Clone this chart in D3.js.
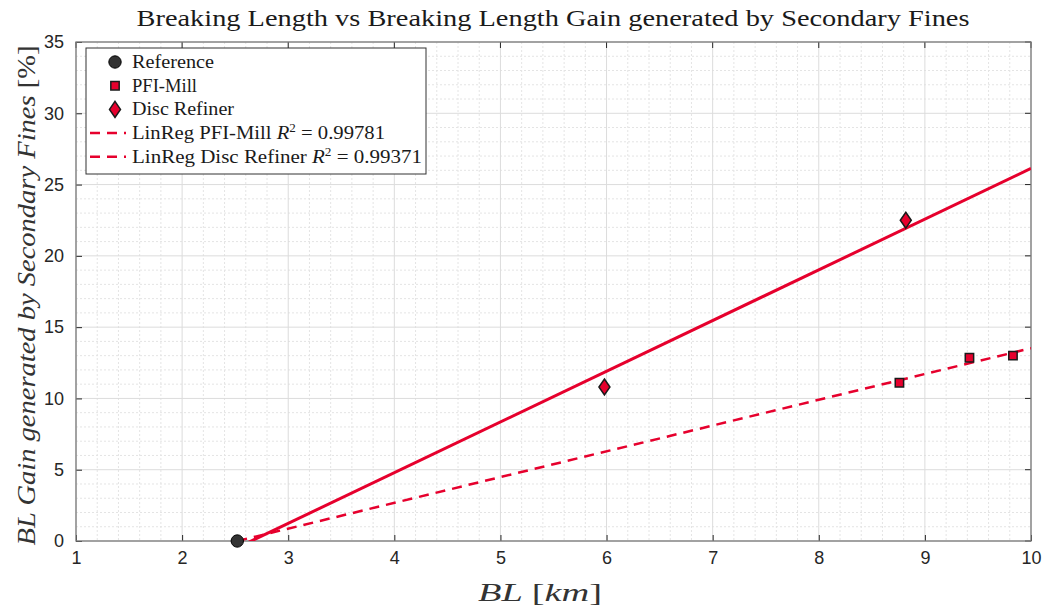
<!DOCTYPE html>
<html>
<head>
<meta charset="utf-8">
<script src="https://cdn.jsdelivr.net/npm/d3@7"></script>
<style>
  html, body { margin: 0; padding: 0; background: #fff; }
  svg { display: block; }
</style>
</head>
<body>
<svg id="chart" width="1050" height="610"></svg>
<script>
// Reference sample
const referenceBL = [2.52];
const referenceGain = [0];

// PFI-Mill samples
const pfiBL = [8.76, 9.42, 9.83];
const pfiGain = [11.1, 12.85, 13.0];

// Disc refiner samples
const discBL = [5.98, 8.82];
const discGain = [10.8, 22.5];

// Linear regression end points (BL, gain)
const pfiFitBL = [2.52, 10];
const pfiFitGain = [0.0, 13.52];
const discFitBL = [2.52, 10];
const discFitGain = [-0.47, 26.13];

const xTicks = [1, 2, 3, 4, 5, 6, 7, 8, 9, 10];
const yTicks = [0, 5, 10, 15, 20, 25, 30, 35];

const legendLabels = ["Reference", "PFI-Mill", "Disc Refiner", "LinReg PFI-Mill", "LinReg Disc Refiner"];
const legendR2 = [null, null, null, "0.99781", "0.99371"];

const RED = "#e6002d";
const serif = "'Liberation Serif', 'DejaVu Serif', serif";
const sans = "'Liberation Sans', Arial, sans-serif";

const svg = d3.select("#chart");
const m = { left: 76, right: 1031, top: 42, bottom: 541 };

const x = d3.scaleLinear().domain([1, 10]).range([m.left, m.right]);
const y = d3.scaleLinear().domain([0, 35]).range([m.bottom, m.top]);

svg.append("defs").append("clipPath").attr("id", "plotclip")
  .append("rect").attr("x", m.left).attr("y", m.top)
  .attr("width", m.right - m.left).attr("height", m.bottom - m.top);

// plot background
svg.append("rect").attr("x", m.left).attr("y", m.top)
  .attr("width", m.right - m.left).attr("height", m.bottom - m.top).attr("fill", "#fff");

// minor grid
const xMinor = d3.range(1, 10.0001, 0.2).filter(v => Math.abs(v - Math.round(v)) > 1e-6);
const yMinor = d3.range(0, 35.0001, 1).filter(v => v % 5 !== 0);
const grid = svg.append("g");
grid.selectAll(".xm").data(xMinor).join("line")
  .attr("x1", d => x(d)).attr("x2", d => x(d)).attr("y1", m.top).attr("y2", m.bottom)
  .attr("stroke", "#e4e4e4").attr("stroke-width", 1).attr("stroke-dasharray", "2,2");
grid.selectAll(".ym").data(yMinor).join("line")
  .attr("y1", d => y(d)).attr("y2", d => y(d)).attr("x1", m.left).attr("x2", m.right)
  .attr("stroke", "#e4e4e4").attr("stroke-width", 1).attr("stroke-dasharray", "2,2");
// major grid
grid.selectAll(".xM").data(xTicks).join("line")
  .attr("x1", d => x(d)).attr("x2", d => x(d)).attr("y1", m.top).attr("y2", m.bottom)
  .attr("stroke", "#dcdcdc").attr("stroke-width", 1);
grid.selectAll(".yM").data(yTicks).join("line")
  .attr("y1", d => y(d)).attr("y2", d => y(d)).attr("x1", m.left).attr("x2", m.right)
  .attr("stroke", "#dcdcdc").attr("stroke-width", 1);

// axes
const xAxis = d3.axisBottom(x).tickValues(xTicks).tickSize(-6).tickPadding(10).tickFormat(d3.format("d"));
const yAxis = d3.axisLeft(y).tickValues(yTicks).tickSize(-6).tickPadding(12).tickFormat(d3.format("d"));
const gx = svg.append("g").attr("transform", `translate(0,${m.bottom})`).call(xAxis);
const gy = svg.append("g").attr("transform", `translate(${m.left},0)`).call(yAxis);
[gx, gy].forEach(g => {
  g.select(".domain").remove();
  g.selectAll(".tick line").attr("stroke", "#262626");
  g.selectAll(".tick text").attr("font-family", sans).attr("font-size", 18).attr("fill", "#262626");
});
// top/right ticks
svg.append("g").selectAll("line").data(xTicks).join("line")
  .attr("x1", d => x(d)).attr("x2", d => x(d)).attr("y1", m.top).attr("y2", m.top + 6).attr("stroke", "#262626");
svg.append("g").selectAll("line").data(yTicks).join("line")
  .attr("y1", d => y(d)).attr("y2", d => y(d)).attr("x1", m.right).attr("x2", m.right - 6).attr("stroke", "#262626");

// box
svg.append("rect").attr("x", m.left).attr("y", m.top)
  .attr("width", m.right - m.left).attr("height", m.bottom - m.top)
  .attr("fill", "none").attr("stroke", "#7a7a7a").attr("stroke-width", 1.3);

const plot = svg.append("g").attr("clip-path", "url(#plotclip)");
const line = d3.line().x(d => x(d[0])).y(d => y(d[1]));

// regression lines
plot.append("path").datum(d3.zip(pfiFitBL, pfiFitGain)).attr("d", line)
  .attr("fill", "none").attr("stroke", RED).attr("stroke-width", 2.5).attr("stroke-dasharray", "10,7");
plot.append("path").datum(d3.zip(discFitBL, discFitGain)).attr("d", line)
  .attr("fill", "none").attr("stroke", RED).attr("stroke-width", 3);

// markers
const sym = (type, size) => d3.symbol().type(type).size(size)();
const diamond = "M0,-8L5.5,0L0,8L-5.5,0Z";

svg.append("g").selectAll("path").data(d3.zip(referenceBL, referenceGain)).join("path")
  .attr("d", sym(d3.symbolCircle, 120))
  .attr("transform", d => `translate(${x(d[0])},${y(d[1])})`)
  .attr("fill", "#333").attr("stroke", "#000").attr("stroke-width", 1);
svg.append("g").selectAll("path").data(d3.zip(pfiBL, pfiGain)).join("path")
  .attr("d", sym(d3.symbolSquare, 70))
  .attr("transform", d => `translate(${x(d[0])},${y(d[1])})`)
  .attr("fill", RED).attr("stroke", "#1a1a1a").attr("stroke-width", 1.5);
svg.append("g").selectAll("path").data(d3.zip(discBL, discGain)).join("path")
  .attr("d", diamond)
  .attr("transform", d => `translate(${x(d[0])},${y(d[1])})`)
  .attr("fill", RED).attr("stroke", "#1a1a1a").attr("stroke-width", 1.5);

// title
svg.append("text").attr("x", 553).attr("y", 26).attr("text-anchor", "middle")
  .attr("font-family", serif).attr("font-size", 23).attr("fill", "#1a1a1a")
  .attr("textLength", 833).attr("lengthAdjust", "spacingAndGlyphs")
  .text("Breaking Length vs Breaking Length Gain generated by Secondary Fines");

// x label
const xl = svg.append("text").attr("x", 540).attr("y", 601).attr("text-anchor", "middle")
  .attr("font-family", serif).attr("font-size", 26).attr("fill", "#333")
  .attr("textLength", 124).attr("lengthAdjust", "spacingAndGlyphs");
xl.append("tspan").attr("font-style", "italic").text("BL ");
xl.append("tspan").text("[");
xl.append("tspan").attr("font-style", "italic").text("km");
xl.append("tspan").text("]");

// y label
const yl = svg.append("text").attr("transform", `translate(35,${(m.top + m.bottom) / 2 + 4}) rotate(-90)`)
  .attr("text-anchor", "middle").attr("font-family", serif).attr("font-size", 25).attr("fill", "#333")
  .attr("textLength", 500).attr("lengthAdjust", "spacingAndGlyphs");
yl.append("tspan").attr("font-style", "italic").text("BL Gain generated by Secondary Fines ");
yl.append("tspan").text("[%]");

// legend
const lg = svg.append("g").attr("transform", "translate(86,48)");
lg.append("rect").attr("width", 340).attr("height", 126)
  .attr("fill", "#fff").attr("stroke", "#333").attr("stroke-width", 1);
const rowY = i => 14 + i * 23.7;
const legendWidths = [82, 65, 102, 253, 290];
legendLabels.forEach((lab, i) => {
  const cy = rowY(i);
  if (i === 0) {
    lg.append("path").attr("d", sym(d3.symbolCircle, 120)).attr("transform", `translate(29,${cy})`)
      .attr("fill", "#333").attr("stroke", "#000");
  } else if (i === 1) {
    lg.append("path").attr("d", sym(d3.symbolSquare, 70)).attr("transform", `translate(29,${cy})`)
      .attr("fill", RED).attr("stroke", "#1a1a1a").attr("stroke-width", 1.5);
  } else if (i === 2) {
    lg.append("path").attr("d", diamond).attr("transform", `translate(29,${cy})`)
      .attr("fill", RED).attr("stroke", "#1a1a1a").attr("stroke-width", 1.5);
  } else {
    lg.append("line").attr("x1", 4).attr("x2", 40).attr("y1", cy).attr("y2", cy)
      .attr("stroke", RED).attr("stroke-width", 2.5).attr("stroke-dasharray", "10,7");
  }
  const t = lg.append("text").attr("x", 46).attr("y", cy + 6)
    .attr("font-family", serif).attr("font-size", 19).attr("fill", "#1a1a1a")
    .attr("textLength", legendWidths[i]).attr("lengthAdjust", "spacingAndGlyphs");
  t.append("tspan").text(lab);
  if (legendR2[i]) {
    t.append("tspan").attr("font-style", "italic").text(" R");
    t.append("tspan").attr("font-size", 12).attr("dy", -7).text("2");
    t.append("tspan").attr("dy", 7).text(" = " + legendR2[i]);
  }
});
</script>
</body>
</html>
